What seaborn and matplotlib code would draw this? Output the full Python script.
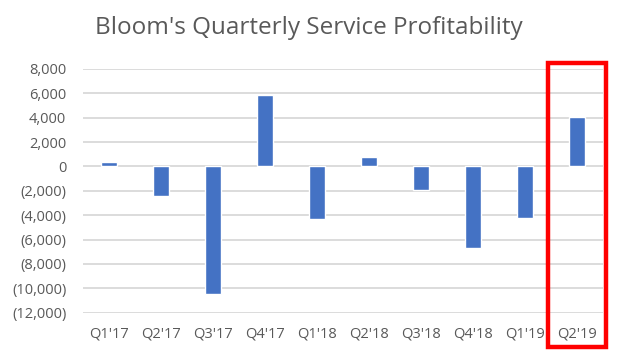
import matplotlib
matplotlib.use("Agg")
import matplotlib.pyplot as plt
import matplotlib.ticker as mticker
import matplotlib.transforms as mtransforms
from matplotlib.patches import Rectangle
import seaborn as sb
import pandas as pd

# quarterly service profit
quarters = ["Q1'17", "Q2'17", "Q3'17", "Q4'17", "Q1'18",
            "Q2'18", "Q3'18", "Q4'18", "Q1'19", "Q2'19"]
profit = [400, -2400, -10500, 5900, -4300, 750, -1900, -6650, -4200, 4100]
highlight = "Q2'19"

data = pd.DataFrame({"quarter": quarters, "profit": profit})

sb.set_style("white")
plt.rcParams["font.family"] = ["Open Sans", "DejaVu Sans"]

fig = plt.figure(figsize=(6.18, 3.56), dpi=100)
ax = fig.add_axes([0.1343, 0.1216, 0.8414, 0.6846])

sb.barplot(data=data, x="quarter", y="profit", color="#4472C4",
           width=0.31, saturation=1, ax=ax)

ax.set_ylim(-12000, 8000)
ax.set_xlim(-0.5, len(quarters) - 0.5)
ax.yaxis.set_major_locator(mticker.MultipleLocator(2000))
ax.yaxis.set_major_formatter(mticker.FuncFormatter(
    lambda v, p: "0" if v == 0 else (f"{v:,.0f}" if v > 0 else f"({-v:,.0f})")))
ax.grid(axis="y", color="#D9D9D9", linewidth=1.3)
ax.set_axisbelow(True)
for s in ax.spines.values():
    s.set_visible(False)
ax.tick_params(axis="both", length=0, labelsize=10.5, colors="#595959")
ax.tick_params(axis="y", pad=12)
ax.tick_params(axis="x", pad=10)
ax.set_xlabel("")
ax.set_ylabel("")

# red box round the latest quarter
i = quarters.index(highlight)
trans = mtransforms.blended_transform_factory(ax.transData, ax.transAxes)
ax.add_patch(Rectangle((i - 0.56, -0.142), 1.12, 1.167, transform=trans,
                       fill=False, edgecolor="#FF0000", linewidth=3.2,
                       clip_on=False))

fig.text(0.5, 0.92, "Bloom's Quarterly Service Profitability",
         ha="center", va="center", fontsize=17.5, color="#595959")

fig.savefig("out.png", dpi=100)
